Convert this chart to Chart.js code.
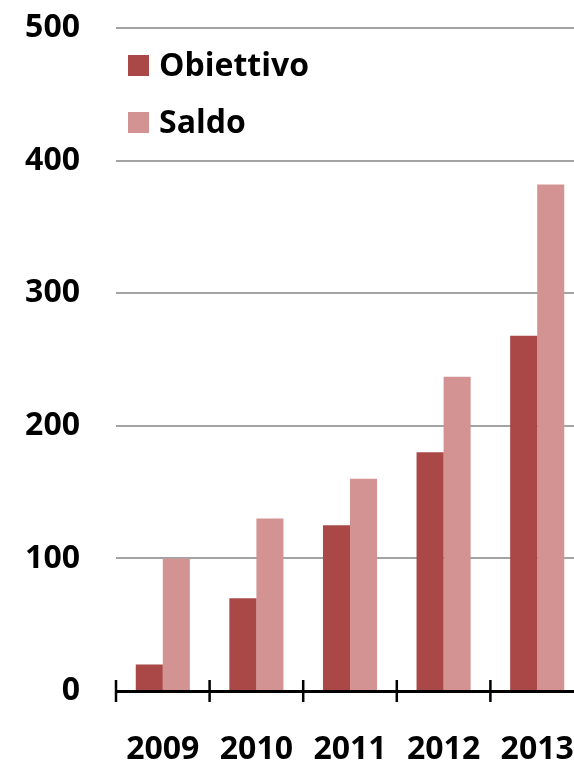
<!DOCTYPE html>
<html>
<head>
<meta charset="utf-8">
<script src="https://cdn.jsdelivr.net/npm/chart.js@4/dist/chart.umd.min.js"></script>
<style>
html,body{margin:0;padding:0;overflow:hidden;background:#fff;width:574px;height:763px;}
#wrap{position:relative;width:590px;height:763px;}
</style>
</head>
<body>
<div id="wrap"><canvas id="c" width="590" height="763"></canvas></div>
<script>
const categories = ['2009', '2010', '2011', '2012', '2013'];
const obiettivo = [20, 70, 125, 180, 268];
const saldo = [100, 130, 160, 237, 382];
const seriesNames = ['Obiettivo', 'Saldo'];
const yTicks = [0, 100, 200, 300, 400, 500];

const FONT = '"Open Sans", "Noto Sans", sans-serif';
const FSIZE = 32;

const legendPlugin = {
  id: 'insideLegend',
  afterDraw(chart) {
    const ctx = chart.ctx;
    const area = chart.chartArea;
    ctx.save();
    ctx.font = 'bold ' + FSIZE + 'px ' + FONT;
    ctx.textBaseline = 'middle';
    ctx.textAlign = 'left';
    chart.data.datasets.forEach((ds, i) => {
      const cy = area.top + 37.5 + i * 57;
      const bx = area.left + 12;
      ctx.fillStyle = ds.backgroundColor;
      ctx.fillRect(bx, cy - 10.5, 21, 21);
      ctx.fillStyle = '#000';
      ctx.fillText(ds.label, bx + 31, cy + 1);
    });
    ctx.restore();
  }
};

const tickPlugin = {
  id: 'crossTicks',
  afterDraw(chart) {
    const xs = chart.scales.x;
    const ys = chart.scales.y;
    const y0 = ys.getPixelForValue(0);
    const step = xs.getPixelForValue(1) - xs.getPixelForValue(0);
    const ctx = chart.ctx;
    ctx.save();
    ctx.strokeStyle = '#000';
    ctx.lineWidth = 2.5;
    ctx.beginPath();
    for (let i = 0; i <= categories.length; i++) {
      const x = xs.getPixelForValue(0) - step / 2 + i * step;
      ctx.moveTo(x, y0 - 11);
      ctx.lineTo(x, y0 + 11);
    }
    ctx.stroke();
    ctx.restore();
  }
};

new Chart(document.getElementById('c'), {
  type: 'bar',
  data: {
    labels: categories,
    datasets: [
      { label: seriesNames[0], data: obiettivo, backgroundColor: '#AA4848', categoryPercentage: 0.578, barPercentage: 1 },
      { label: seriesNames[1], data: saldo, backgroundColor: '#D39393', categoryPercentage: 0.578, barPercentage: 1 }
    ]
  },
  options: {
    responsive: false,
    animation: false,
    devicePixelRatio: 1,
    layout: { padding: { top: 28, right: 6, left: 0, bottom: 0 } },
    plugins: { legend: { display: false }, tooltip: { enabled: false } },
    scales: {
      x: {
        grid: { display: true, drawOnChartArea: false, drawTicks: false, offset: true },
        border: { display: true, color: '#000', width: 3 },
        ticks: { color: '#000', font: { family: FONT, size: FSIZE, weight: 'bold' }, padding: 40, maxRotation: 0 },
        afterFit(scale) { scale.height = 72; scale.paddingLeft = 0; scale.paddingRight = 0; }
      },
      y: {
        min: 0,
        max: 500,
        afterBuildTicks(scale) { scale.ticks = yTicks.map(v => ({ value: v })); },
        grid: {
          drawTicks: false,
          color: (c) => c.tick && c.tick.value === 0 ? 'rgba(0,0,0,0)' : '#A3A3A3',
          lineWidth: 2
        },
        border: { display: false },
        ticks: { color: '#000', font: { family: FONT, size: FSIZE, weight: 'bold' }, padding: 36 },
        afterFit(scale) { scale.width = 116; scale.paddingTop = 0; scale.paddingBottom = 0; }
      }
    }
  },
  plugins: [legendPlugin, tickPlugin]
});
</script>
</body>
</html>
